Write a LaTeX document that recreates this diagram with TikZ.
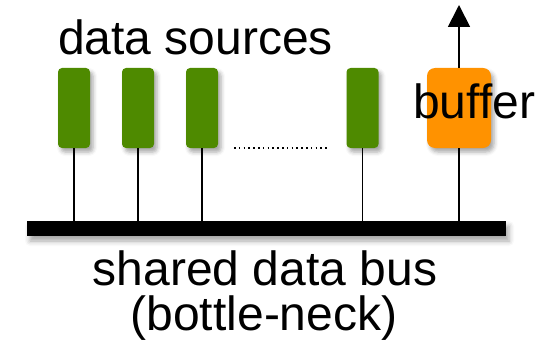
\documentclass[tikz,border=0pt]{standalone}
\usepackage{fontspec}
\setmainfont{Liberation Sans}
\usetikzlibrary{arrows.meta,shadows.blur}
\definecolor{srcgreen}{RGB}{78,138,0}
\definecolor{buforange}{RGB}{255,146,0}
\tikzset{
  src/.style={draw=none, fill=srcgreen, rounded corners=4pt, minimum width=32pt, minimum height=80pt, inner sep=0pt,
    blur shadow={shadow xshift=3pt, shadow yshift=-4pt, shadow blur radius=4pt, shadow opacity=35}},
  bufbox/.style={draw=none, fill=buforange, rounded corners=8pt, minimum width=64pt, minimum height=80pt, inner sep=0pt,
    blur shadow={shadow xshift=3pt, shadow yshift=-4pt, shadow blur radius=4pt, shadow opacity=35}},
  busbar/.style={draw=none, fill=black, minimum width=479pt, minimum height=15pt, inner sep=0pt,
    blur shadow={shadow xshift=3pt, shadow yshift=-5pt, shadow blur radius=5pt, shadow opacity=35}},
  wire/.style={line width=1.8pt, black},
  lbl/.style={font=\fontsize{48}{52}\selectfont, inner sep=0pt, text=black},
}
\begin{document}
\begin{tikzpicture}[x=1pt,y=-1pt]
\useasboundingbox (0,0) rectangle (556,342);
% bus
\node[busbar] (bus) at (266.5,228.5) {};
% sources
\node[src] (s1) at (74,108) {};
\node[src] (s2) at (138,108) {};
\node[src] (s3) at (202,108) {};
\node[src] (s4) at (362.5,108) {};
\node[bufbox] (buf) at (459,108) {};
\coordinate (out) at (459,5);
\coordinate (dotl) at (234,148);
\coordinate (dotr) at (328,148);
% wires
\foreach \n in {s1,s2,s3,s4,buf}{
  \draw[wire] (\n.south) -- (\n.south |- bus.north);
}
\draw[wire, -{Triangle[width=22pt,length=22pt]}] (buf.north) -- (out);
\draw[line width=1.6pt, dash pattern=on 1.6pt off 3.2pt] (dotl) -- (dotr);
% labels
\node[lbl, anchor=base west] (ds) at (58,55) {data sources};
\node[lbl, anchor=base west] (bf) at (413,118) {buffer};
\node[lbl, anchor=base] (bl1) at (265,285) {shared data bus};
\node[lbl, anchor=base] (bl2) at (264,330) {(bottle-neck)};
\end{tikzpicture}
\end{document}
